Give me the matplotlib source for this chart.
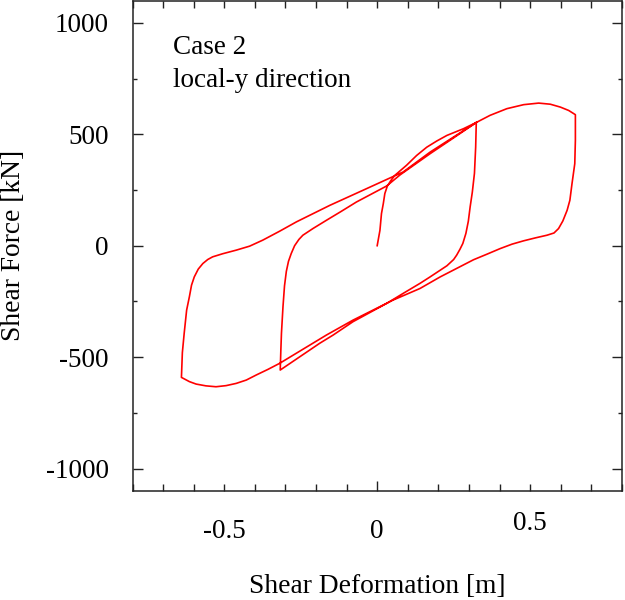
import matplotlib
matplotlib.use("Agg")
import matplotlib.pyplot as plt
from matplotlib.ticker import MultipleLocator, FixedLocator
from matplotlib.transforms import ScaledTranslation

plt.rcParams['font.family'] = ['Liberation Serif', 'DejaVu Serif']

# Loading path segments (deformation [m], force [kN])
load1_x = [0, 0.009, 0.014, 0.020, 0.025, 0.033, 0.045, 0.058, 0.074, 0.096, 0.129, 0.162,
           0.195, 0.228, 0.282, 0.324]
load1_y = [0, 69, 144, 189, 234, 267, 293, 316, 335, 361, 405, 442,
           470, 495, 525, 553]

unload1_x = [0.324, 0.322, 0.318, 0.311, 0.304, 0.298, 0.290, 0.280, 0.271, 0.260,
             0.250, 0.228, 0.206, 0.173, 0.140, 0.085, 0.031, -0.079, -0.144, -0.188, -0.317]
unload1_y = [553, 443, 325, 240, 175, 110, 55, 10, -15, -42,
             -62, -90, -110, -140, -169, -214, -259, -341, -401, -438, -558]

reload1_x = [-0.317, -0.315, -0.313, -0.308, -0.303, -0.297, -0.290, -0.281, -0.270, -0.256,
             -0.243, -0.210, -0.166, -0.120, -0.068, 0.031, 0.075, 0.173, 0.250, 0.324]
reload1_y = [-558, -470, -393, -274, -180, -115, -70, -35, 0, 28,
             47, 77, 114, 152, 196, 268, 318, 413, 484, 553]

load2_x = [0.324, 0.369, 0.424, 0.479, 0.528, 0.566, 0.599, 0.626, 0.648]
load2_y = [553, 585, 615, 633, 640, 635, 622, 607, 588]

unload2_x = [0.648, 0.648, 0.646, 0.637, 0.630, 0.621, 0.607, 0.593, 0.578, 0.555, 0.517,
             0.479, 0.441, 0.402, 0.359, 0.315, 0.206, 0.140, 0.052, -0.079, -0.166,
             -0.319, -0.357, -0.395, -0.428, -0.461, -0.494, -0.527, -0.560, -0.592,
             -0.614, -0.640]
unload2_y = [588, 473, 368, 279, 204, 159, 111, 77, 57, 47, 35,
             22, 7, -13, -38, -63, -140, -192, -244, -334, -401,
             -528, -555, -580, -603, -618, -628, -633, -629, -621,
             -610, -591]

reload2_x = [-0.640, -0.637, -0.631, -0.623, -0.614, -0.607, -0.598, -0.585, -0.570, -0.554,
             -0.538, -0.505, -0.461, -0.417, -0.374, -0.319, -0.264, -0.155, -0.046, 0.085,
             0.173, 0.250, 0.324]
reload2_y = [-591, -480, -393, -289, -229, -177, -140, -105, -80, -62,
             -50, -36, -20, -2, 25, 65, 107, 181, 249, 331,
             420, 488, 553]

segments = [(load1_x, load1_y), (unload1_x, unload1_y), (reload1_x, reload1_y),
            (load2_x, load2_y), (unload2_x, unload2_y), (reload2_x, reload2_y)]

xticks = [-0.5, 0, 0.5]
xticklabels = ['-0.5', '0', '0.5']
yticks = [-1000, -500, 0, 500, 1000]
yticklabels = ['-1000', '-500', '0', '500', '1000']

fig = plt.figure(figsize=(6.25, 6.0), dpi=100)
ax = fig.add_axes([0.212, 0.182, 0.783, 0.817])

xs, ys = [], []
for sx, sy in segments:
    xs += sx
    ys += sy
ax.plot(xs, ys, color='#ff0000', lw=1.2, solid_joinstyle='round')

ax.set_xlim(-0.8, 0.8)
ax.set_ylim(-1100, 1100)
ax.xaxis.set_major_locator(FixedLocator(xticks))
ax.set_xticklabels(xticklabels)
ax.xaxis.set_minor_locator(MultipleLocator(0.1))
ax.yaxis.set_major_locator(FixedLocator(yticks))
ax.set_yticklabels(yticklabels)
ax.yaxis.set_minor_locator(MultipleLocator(250))

ax.tick_params(which='both', direction='in', top=True, right=True, width=1.0,
               labelsize=19.5, color='#222222')
ax.tick_params(axis='y', which='major', length=7, pad=17)
ax.tick_params(axis='y', which='minor', length=3.0)
ax.tick_params(axis='x', which='major', length=5, pad=20)
ax.tick_params(axis='x', which='minor', length=5)
for sp in ax.spines.values():
    sp.set_linewidth(1.1)
    sp.set_color('#222222')

# longer tick at zero on the bottom axis
ax.xaxis.get_major_ticks()[1].tick1line.set_markersize(7)

# the "0.5" label sits a little higher in the reference
lbl = ax.get_xticklabels()[2]
lbl.set_transform(lbl.get_transform() + ScaledTranslation(0, 0.08, fig.dpi_scale_trans))

ax.set_xlabel('Shear Deformation [m]', fontsize=19.8, labelpad=22)
ax.set_ylabel('Shear Force [kN]', fontsize=19.8, labelpad=14)

ax.text(0.083, 0.929, 'Case 2', transform=ax.transAxes, fontsize=19.5, va='top', ha='left')
ax.text(0.083, 0.863, 'local-y direction', transform=ax.transAxes, fontsize=19.5, va='top', ha='left')

fig.savefig('out.png', dpi=100)
